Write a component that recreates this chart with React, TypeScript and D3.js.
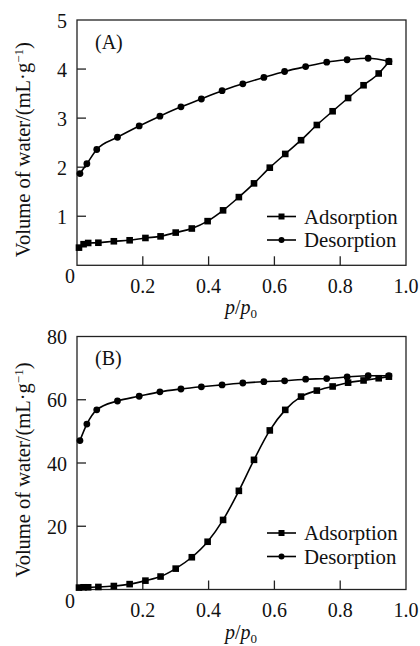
import React from "react";
import * as d3 from "d3";

// relative pressure p/p0 for each measured point
const adsX = [0.006, 0.02, 0.034, 0.065, 0.112, 0.16, 0.208, 0.254, 0.3, 0.349, 0.397, 0.444, 0.492, 0.538, 0.586, 0.633, 0.681, 0.729, 0.777, 0.824, 0.871, 0.917, 0.948];
const desX = [0.009, 0.03, 0.06, 0.123, 0.189, 0.252, 0.316, 0.378, 0.441, 0.504, 0.568, 0.631, 0.695, 0.759, 0.821, 0.885, 0.948];

// panel A: volume of water (mL/g)
const adsA = [0.36, 0.43, 0.455, 0.46, 0.49, 0.51, 0.557, 0.59, 0.667, 0.75, 0.9, 1.12, 1.39, 1.67, 1.99, 2.27, 2.55, 2.86, 3.14, 3.41, 3.67, 3.91, 4.15];
const desA = [1.87, 2.07, 2.36, 2.61, 2.84, 3.04, 3.23, 3.39, 3.56, 3.7, 3.83, 3.95, 4.05, 4.14, 4.19, 4.22, 4.16];

// panel B
const adsB = [0.6, 0.7, 0.7, 0.8, 1.1, 1.7, 2.8, 4.1, 6.6, 10.2, 15.1, 22.0, 31.2, 41.0, 50.3, 56.8, 61.0, 62.9, 64.2, 65.4, 66.1, 66.8, 67.3];
const desB = [47.1, 52.3, 56.8, 59.6, 61.1, 62.5, 63.4, 64.1, 64.7, 65.3, 65.7, 66.0, 66.5, 66.7, 67.2, 67.6, 67.6];

const xTicks = [0.2, 0.4, 0.6, 0.8, 1.0];
const yTicksA = [1, 2, 3, 4, 5];
const yTicksB = [20, 40, 60, 80];
const legendNames = ["Adsorption", "Desorption"];

const FONT = "Liberation Serif";
const left = 77;
const right = 406;

type PanelProps = {
    top: number;
    bottom: number;
    yMax: number;
    yTicks: number[];
    ads: number[];
    des: number[];
    tag: string;
};

const Panel = ({ top, bottom, yMax, yTicks, ads, des, tag }: PanelProps) => {
    const x = d3.scaleLinear().domain([0, 1]).range([left, right]);
    const y = d3.scaleLinear().domain([0, yMax]).range([bottom, top]);
    const adsPts = adsX.map((v, i) => [v, ads[i]] as [number, number]);
    const desPts = desX.map((v, i) => [v, des[i]] as [number, number]);
    const line = d3
        .line<[number, number]>()
        .x((d) => x(d[0]))
        .y((d) => y(d[1]))
        .curve(d3.curveMonotoneX);
    const midY = (top + bottom) / 2 + 7;
    const tx = { fontFamily: FONT, fontSize: 20, fill: "#111" };

    return (
        <g>
            <rect x={left} y={top} width={right - left} height={bottom - top} fill="none" stroke="#222" strokeWidth={1.3} />
            {xTicks.map((t) => (
                <g key={"x" + t}>
                    {t < 1 && <line x1={x(t)} x2={x(t)} y1={bottom} y2={bottom - 9} stroke="#222" strokeWidth={1.3} />}
                    <text x={x(t)} y={bottom + 27.5} textAnchor="middle" style={tx}>
                        {t.toFixed(1)}
                    </text>
                </g>
            ))}
            {yTicks.map((t) => (
                <g key={"y" + t}>
                    {t < yMax && <line x1={left} x2={left + 9} y1={y(t)} y2={y(t)} stroke="#222" strokeWidth={1.3} />}
                    <text x={67} y={y(t) + 7.5} textAnchor="end" style={tx}>
                        {t}
                    </text>
                </g>
            ))}
            <text x={70} y={bottom + 18} textAnchor="middle" style={tx}>0</text>
            <text x={95} y={top + 28.5} style={tx}>{tag}</text>
            <text transform={`translate(30,${midY}) rotate(-90)`} textAnchor="middle" style={{ ...tx, fontSize: 20.5 }}>
                Volume of water/(mL·g<tspan dy={-7} style={{ fontSize: 13 }}>−1</tspan>
                <tspan dy={7}>)</tspan>
            </text>
            <text x={241} y={bottom + 49} textAnchor="middle" style={tx}>
                <tspan style={{ fontStyle: "italic" }}>p</tspan>/<tspan style={{ fontStyle: "italic" }}>p</tspan>
                <tspan dy={4} style={{ fontSize: 13 }}>0</tspan>
            </text>

            <path d={line(adsPts) || ""} fill="none" stroke="#000" strokeWidth={1.6} />
            <path d={line(desPts) || ""} fill="none" stroke="#000" strokeWidth={1.6} />
            {adsPts.map((d, i) => (
                <rect key={"a" + i} x={x(d[0]) - 3.3} y={y(d[1]) - 3.3} width={6.6} height={6.6} fill="#000" />
            ))}
            {desPts.map((d, i) => (
                <circle key={"d" + i} cx={x(d[0])} cy={y(d[1])} r={3.4} fill="#000" />
            ))}

            {legendNames.map((name, i) => {
                const ly = top + 196.5 + i * 23.5;
                return (
                    <g key={name}>
                        <line x1={267} x2={296} y1={ly} y2={ly} stroke="#000" strokeWidth={1.6} />
                        {i === 0 ? (
                            <rect x={278.5} y={ly - 3} width={6} height={6} fill="#000" />
                        ) : (
                            <circle cx={281.5} cy={ly} r={3} fill="#000" />
                        )}
                        <text x={304} y={ly + 7} style={{ ...tx, fontSize: 20.8 }}>
                            {name}
                        </text>
                    </g>
                );
            })}
        </g>
    );
};

export default function App() {
    return (
        <div style={{ position: "absolute", left: 0, top: 0 }}>
            <svg width={420} height={646} style={{ display: "block", background: "#fff" }}>
                <Panel top={20} bottom={265.3} yMax={5} yTicks={yTicksA} ads={adsA} des={desA} tag="(A)" />
                <Panel top={336.5} bottom={589.5} yMax={80} yTicks={yTicksB} ads={adsB} des={desB} tag="(B)" />
            </svg>
        </div>
    );
}
